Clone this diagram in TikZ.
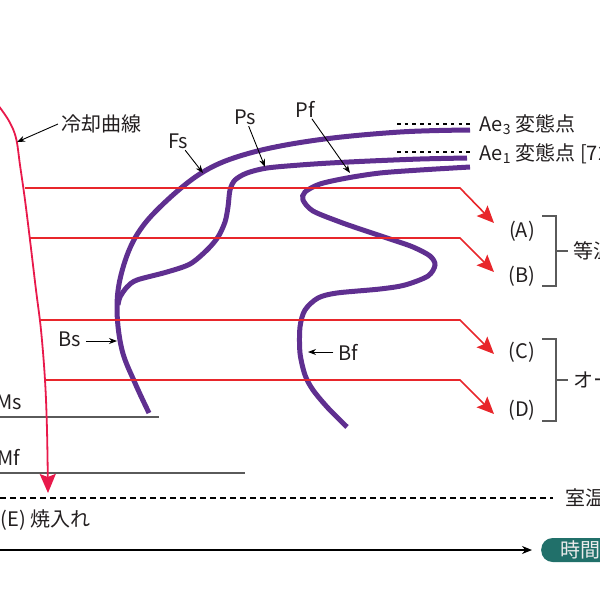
\documentclass[tikz,border=0pt]{standalone}
\usepackage{fontspec}
\setmainfont{Noto Sans CJK JP}
\usetikzlibrary{arrows.meta}
\definecolor{cool}{HTML}{E8194B}
\definecolor{iso}{HTML}{E8262B}
\definecolor{purp}{HTML}{5F2F90}
\definecolor{tealbox}{HTML}{21706A}
\definecolor{grayl}{HTML}{5A5A5A}
\definecolor{txt}{HTML}{231F20}
\begin{document}
\begin{tikzpicture}[x=1pt,y=-1pt,
  font=\fontsize{20}{24}\selectfont,
  every node/.style={text=txt},
  lbl/.style={inner sep=1.5pt},
  trans/.style={purp, line width=5pt},
  isoline/.style={iso, line width=1.6pt, -{Stealth[length=17pt,width=15pt,inset=3pt]}},
  ptr/.style={black, line width=0.9pt, -{Stealth[length=8pt,width=6pt]}},
  thinline/.style={grayl, line width=1.2pt},
  brack/.style={grayl, line width=1.2pt},
  aedots/.style={black, line width=1.6pt, dash pattern=on 3.5pt off 4.2pt},
]
\useasboundingbox (0,0) rectangle (600,595);

% transformation curves
\draw[trans] plot[smooth, tension=0.6] coordinates {(470,130) (400,132) (317,140) (250,153) (203,172) (160,207) (135,238) (121,275) (117,310) (122,350) (135,383) (149,413)};
\draw[trans] plot[smooth, tension=0.5] coordinates {(467,158) (420,159) (370,161) (330,163) (300,165) (267,168) (247,173) (235,180) (230,190) (228,207) (225,222) (218,237) (207,250) (190,264) (167,272) (137,280) (127,287) (120,297) (118,305)};
\draw[trans] plot[smooth, tension=0.5] coordinates {(470,167) (420,170) (380,173) (347,178) (320,184) (305,192) (303,200) (313,211) (340,222) (363,230) (390,239) (413,247) (430,256) (435,265) (428,276) (405,285) (380,289) (337,293) (318,298) (305,310) (300,327) (300,353) (305,375) (313,390) (328,408) (347,427)};

% Ms, Mf
\draw[thinline] (0,417) coordinate (ms0) -- (159,417) coordinate (ms1);
\draw[thinline] (0,473) coordinate (mf0) -- (245,473) coordinate (mf1);
\node[lbl, anchor=east] (ms) at (24,402) {Ms};
\node[lbl, anchor=east] (mf) at (22,457) {Mf};

% isothermal lines
\coordinate (c1) at (25,188);
\coordinate (c2) at (29,238);
\coordinate (c3) at (39,320);
\coordinate (c4) at (45,380);
\node[lbl] (A) at (522,231) {(A)};
\node[lbl] (B) at (522,276) {(B)};
\node[lbl] (C) at (522,352) {(C)};
\node[lbl] (D) at (522,410) {(D)};
\draw[isoline] (c1) -- (460,188) -- (494,223) coordinate (a1);
\draw[isoline] (c2) -- (460,238) -- (494,272) coordinate (a2);
\draw[isoline] (c3) -- (460,320) -- (494,354) coordinate (a3);
\draw[isoline] (c4) -- (460,380) -- (494,414) coordinate (a4);

% cooling curve
\draw[cool, line width=1.8pt, -{Stealth[length=19pt,width=16pt,inset=3pt]}] plot[smooth, tension=0.6] coordinates {(-2,105) (9,121) (16,138) (20,165) (25,200) (30,240) (36,290) (41,330) (45,380) (47,430) (48,493)};

% brackets
\draw[brack] (542,216) -- (556,216) -- (556,286) -- (542,286);
\draw[brack] (556,251) -- (568,251);
\node[lbl, anchor=west] (iso1) at (572,251) {等温焼なまし};
\draw[brack] (542,339) -- (556,339) -- (556,421) -- (542,421);
\draw[brack] (556,380) -- (568,380);
\node[lbl, anchor=west] (iso2) at (572,380) {オーステンパ};

% Ae lines
\draw[aedots] (397,124) coordinate (ae3a) -- (470,124) coordinate (ae3b);
\draw[aedots] (397,152) coordinate (ae1a) -- (470,152) coordinate (ae1b);
\node[lbl, anchor=west] (ae3) at (478,125) {Ae\textsubscript{3} 変態点};
\node[lbl, anchor=west] (ae1) at (478,154) {Ae\textsubscript{1} 変態点 [727℃]};

% pointer labels
\node[lbl, anchor=west] (cl) at (60,124) {冷却曲線};
\coordinate (clt) at (17,142);
\draw[ptr] ([xshift=-2pt]cl.west) -- (clt);

\node[lbl] (fs) at (178,141) {Fs};
\coordinate (fst) at (203,173);
\draw[ptr] (fs) -- (fst);
\node[lbl] (ps) at (245,117) {Ps};
\coordinate (pst) at (265,167);
\draw[ptr] (ps) -- (pst);
\node[lbl] (pf) at (305,109) {Pf};
\coordinate (pft) at (350,173);
\draw[ptr] (pf) -- (pft);
\node[lbl] (bs) at (70,339) {Bs};
\coordinate (bst) at (117,341);
\draw[ptr] ([xshift=3pt,yshift=-2pt]bs.east) -- (bst);
\node[lbl] (bf) at (348,352) {Bf};
\coordinate (bft) at (308,352);
\draw[ptr] ([xshift=-3pt]bf.west) -- (bft);

% room temperature
\draw[black, line width=2.5pt, dash pattern=on 6pt off 4pt] (0,498) coordinate (rt0) -- (553,498) coordinate (rt1);
\node[lbl, anchor=west] (rt) at (564,498) {室温};
\node[lbl, anchor=west] (E) at (-1,520) {(E) 焼入れ};

% time axis
\node[fill=tealbox, rounded corners=11.5pt, minimum height=24pt, inner xsep=19pt, inner ysep=0pt, text=white!92!black, anchor=west] (time) at (541,550) {時間};
\coordinate (t0) at (-1,550);
\draw[black, line width=1.2pt, -{Stealth[length=10pt,width=8pt]}] (t0) -- ([xshift=-9pt]time.west);
\end{tikzpicture}
\end{document}
